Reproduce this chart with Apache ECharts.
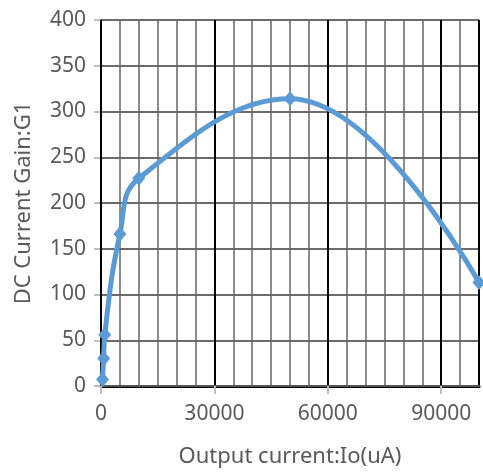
<!DOCTYPE html>
<html>
<head>
<meta charset="utf-8">
<script src="https://cdn.jsdelivr.net/npm/echarts@6/dist/echarts.min.js"></script>
<style>
  html, body { margin: 0; padding: 0; background: #fff; }
  #chart { width: 483px; height: 473px; }
</style>
</head>
<body>
<div id="chart"></div>
<script>
// measured points: output current (uA) vs DC current gain
const currentUA = [400, 700, 1000, 5000, 10000, 50000, 100000];
const gain = [7, 30, 56, 166, 227, 314, 113];
const xTicks = [0, 30000, 60000, 90000];

const textColor = '#595959';
const font = '"Noto Sans", "Open Sans", sans-serif';

const chart = echarts.init(document.getElementById('chart'));

chart.setOption({
    animation: false,
    grid: { left: 101, right: 4, top: 20, bottom: 87 },
    xAxis: [{
        type: 'value',
        min: 0,
        max: 100000,
        interval: 30000,
        position: 'bottom',
        name: 'Output current:Io(uA)',
        nameLocation: 'middle',
        nameGap: 60,
        nameTextStyle: { color: textColor, fontSize: 22, fontFamily: font },
        axisLine: { show: true, lineStyle: { color: '#555', width: 2 } },
        axisTick: { show: true, length: 8, lineStyle: { color: '#bfbfbf', width: 2 } },
        axisLabel: {
            color: textColor, fontSize: 21, fontFamily: font, margin: 18,
            showMaxLabel: false,
            formatter: v => xTicks.includes(v) ? String(v) : ''
        },
        splitLine: { show: true, lineStyle: { color: '#000', width: 2 } },
        z: 3
    }, {
        // minor grid every 5000, also draws the top border
        type: 'value',
        min: 0,
        max: 100000,
        interval: 5000,
        position: 'top',
        axisLine: { show: true, lineStyle: { color: '#000', width: 3 } },
        axisTick: { show: false },
        axisLabel: { show: false },
        splitLine: { show: true, lineStyle: { color: '#666', width: 1.5 } }
    }],
    yAxis: [{
        type: 'value',
        min: 0,
        max: 400,
        interval: 50,
        name: 'DC Current Gain:G1',
        nameLocation: 'middle',
        nameGap: 66,
        nameTextStyle: { color: textColor, fontSize: 22, fontFamily: font },
        axisLine: { show: true, lineStyle: { color: '#bfbfbf', width: 2 } },
        axisTick: { show: true, length: 7, lineStyle: { color: '#bfbfbf', width: 2 } },
        axisLabel: { color: textColor, fontSize: 21, fontFamily: font, margin: 15 },
        splitLine: { show: true, lineStyle: { color: '#3a3a3a', width: 1.5 } }
    }, {
        // right border
        type: 'value',
        min: 0,
        max: 400,
        position: 'right',
        axisLine: { show: true, lineStyle: { color: '#000', width: 2 } },
        axisTick: { show: false },
        axisLabel: { show: false },
        splitLine: { show: false }
    }],
    series: [{
        type: 'line',
        xAxisIndex: 0,
        yAxisIndex: 0,
        data: currentUA.map((x, i) => [x, gain[i]]),
        smooth: 0.42,
        symbol: 'diamond',
        symbolSize: [13, 15],
        lineStyle: { color: '#5b9bd5', width: 5 },
        itemStyle: { color: '#5b9bd5' },
        z: 5
    }]
});
</script>
</body>
</html>
